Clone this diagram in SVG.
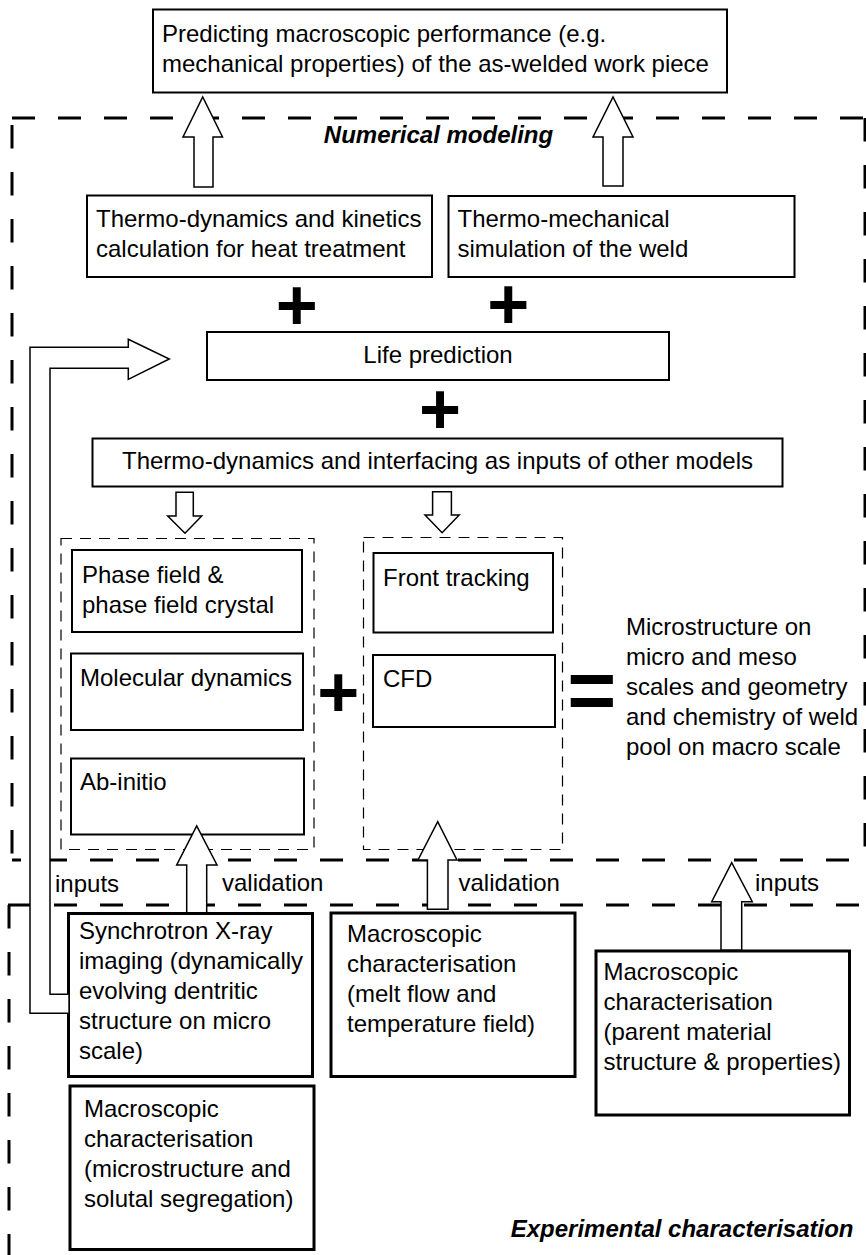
<svg xmlns="http://www.w3.org/2000/svg" width="866" height="1255" viewBox="0 0 866 1255">
<style>
.box{fill:#fff;stroke:#000;stroke-width:2}
.ebox{fill:#fff;stroke:#000;stroke-width:3}
.grp{fill:none;stroke:#000;stroke-width:1.2;stroke-dasharray:11 8}
.reg{fill:none;stroke:#000;stroke-width:3}
.arr{fill:#fff;stroke:#000;stroke-width:1.5;stroke-linejoin:miter}
text{font-family:"Liberation Sans",Arial,sans-serif;font-size:24px;fill:#000}
.bi{font-weight:bold;font-style:italic}
.sym{font-weight:bold;font-size:72px;text-anchor:middle}
.mid{text-anchor:middle}
</style>
<rect width="866" height="1255" fill="#fff"/>
<g id="regions">
  <g id="numerical-region">
    <line class="reg" x1="12" y1="118" x2="866" y2="118" stroke-dasharray="23 23"/>
    <line class="reg" x1="12" y1="125" x2="12" y2="860" stroke-dasharray="23.5 23.5"/>
    <line class="reg" x1="12" y1="860" x2="866" y2="860" stroke-dasharray="23 23" stroke-dashoffset="14"/>
    <line class="reg" x1="865" y1="118" x2="865" y2="860" stroke-dasharray="23.5 23.5"/>
    <text class="bi mid" x="438.5" y="143">Numerical modeling</text>
  </g>
  <g id="experimental-region">
    <line class="reg" x1="8" y1="905" x2="866" y2="905" stroke-dasharray="23 23"/>
    <line class="reg" x1="9" y1="905" x2="9" y2="1255" stroke-dasharray="23.5 23.5"/>
    <text class="bi" x="853.5" y="1237" text-anchor="end">Experimental characterisation</text>
  </g>
  <rect id="group-left" class="grp" x="61" y="538.5" width="253" height="311"/>
  <rect id="group-right" class="grp" x="363.5" y="537.5" width="199" height="312"/>
</g>
<g id="node-top">
  <rect class="box" x="153" y="9.5" width="574" height="83"/>
  <text x="162" y="42">Predicting macroscopic performance (e.g.</text>
  <text x="162" y="72">mechanical properties) of the as-welded work piece</text>
</g>
<g id="node-thermo-kinetics">
  <rect class="box" x="87" y="195.5" width="345" height="81.5"/>
  <text x="96" y="227">Thermo-dynamics and kinetics</text>
  <text x="96" y="257">calculation for heat treatment</text>
</g>
<g id="node-thermo-mech">
  <rect class="box" x="448.5" y="196" width="346" height="81"/>
  <text x="457.5" y="227">Thermo-mechanical</text>
  <text x="457.5" y="257">simulation of the weld</text>
</g>
<g id="node-life">
  <rect class="box" x="207" y="332" width="462" height="48"/>
  <text class="mid" x="438" y="363">Life prediction</text>
</g>
<g id="node-interfacing">
  <rect class="box" x="92.5" y="438.5" width="690" height="48"/>
  <text class="mid" x="437.5" y="469">Thermo-dynamics and interfacing as inputs of other models</text>
</g>
<g id="node-phase-field">
  <rect class="box" x="72" y="550" width="230" height="82"/>
  <text x="82" y="583">Phase field &amp;</text>
  <text x="82" y="613">phase field crystal</text>
</g>
<g id="node-molecular">
  <rect class="box" x="71" y="653.5" width="232" height="76.5"/>
  <text x="80" y="686">Molecular dynamics</text>
</g>
<g id="node-abinitio">
  <rect class="box" x="71" y="758.5" width="233" height="76"/>
  <text x="80" y="790">Ab-initio</text>
</g>
<g id="node-front">
  <rect class="box" x="373.5" y="553" width="179.5" height="79.5"/>
  <text x="383" y="585.5">Front tracking</text>
</g>
<g id="node-cfd">
  <rect class="box" x="373" y="655" width="182" height="72"/>
  <text x="383" y="687">CFD</text>
</g>
<g id="node-result">
  <text x="626" y="635">Microstructure on</text>
  <text x="626" y="665">micro and meso</text>
  <text x="626" y="695">scales and geometry</text>
  <text x="626" y="725">and chemistry of weld</text>
  <text x="626" y="755">pool on macro scale</text>
</g>
<g id="node-synchrotron">
  <rect class="ebox" x="68.5" y="913.5" width="244" height="163"/>
  <text x="79" y="939">Synchrotron X-ray</text>
  <text x="79" y="969">imaging (dynamically</text>
  <text x="79" y="999">evolving dentritic</text>
  <text x="79" y="1029">structure on micro</text>
  <text x="79" y="1059">scale)</text>
</g>
<g id="node-macro-micro">
  <rect class="ebox" x="70" y="1086" width="244" height="163.5"/>
  <text x="84" y="1117">Macroscopic</text>
  <text x="84" y="1147">characterisation</text>
  <text x="84" y="1177">(microstructure and</text>
  <text x="84" y="1207">solutal segregation)</text>
</g>
<g id="node-macro-melt">
  <rect class="ebox" x="331" y="913" width="244" height="163.5"/>
  <text x="347" y="942">Macroscopic</text>
  <text x="347" y="972">characterisation</text>
  <text x="347" y="1002">(melt flow and</text>
  <text x="347" y="1032">temperature field)</text>
</g>
<g id="node-macro-parent">
  <rect class="ebox" x="596" y="951" width="253.5" height="164"/>
  <text x="603.5" y="980">Macroscopic</text>
  <text x="603.5" y="1010">characterisation</text>
  <text x="603.5" y="1040">(parent material</text>
  <text x="603.5" y="1070">structure &amp; properties)</text>
</g>
<g id="operators">
  <text class="sym" x="296.7" y="330">+</text>
  <text class="sym" x="508.3" y="329">+</text>
  <text class="sym" x="440" y="434.3">+</text>
  <text class="sym" x="338.3" y="716.7">+</text>
  <text class="sym" x="591.7" y="719" style="font-size:84px">=</text>
</g>
<g id="connectors">
  <path class="arr" d="M194,187 V137 H183 L202.7,97 L222.5,137 H213 V187 Z"/>
  <path class="arr" d="M603,186 V137 H593 L613,97 L633,137 H623 V186 Z"/>
  <path class="arr" d="M176,492.3 V516 H167.7 L185,533.3 L201.7,516 H193.3 V492.3 Z"/>
  <path class="arr" d="M432.6,491.7 V515 H425 L442.1,532.7 L459.2,515 H451.4 V491.7 Z"/>
  <path class="arr" d="M186.7,912.7 V865 H176.7 L196.7,826 L217,865 H206.7 V912.7 Z"/>
  <path class="arr" d="M427.4,909.3 V860 H418 L437.7,821.7 L457,860 H448 V909.3 Z"/>
  <path class="arr" d="M721,950 V901.7 H711.7 L731.7,862.7 L752.3,901.7 H741.7 V950 Z"/>
  <path class="arr" d="M68.3,1013.3 H30 V347.3 H128.3 V339.3 L169.3,359 L128.3,379.3 V368.3 H50 V994.3 H68.3"/>
  <text x="55" y="892">inputs</text>
  <text x="222" y="891">validation</text>
  <text x="458.5" y="891">validation</text>
  <text x="755" y="891">inputs</text>
</g>
</svg>
